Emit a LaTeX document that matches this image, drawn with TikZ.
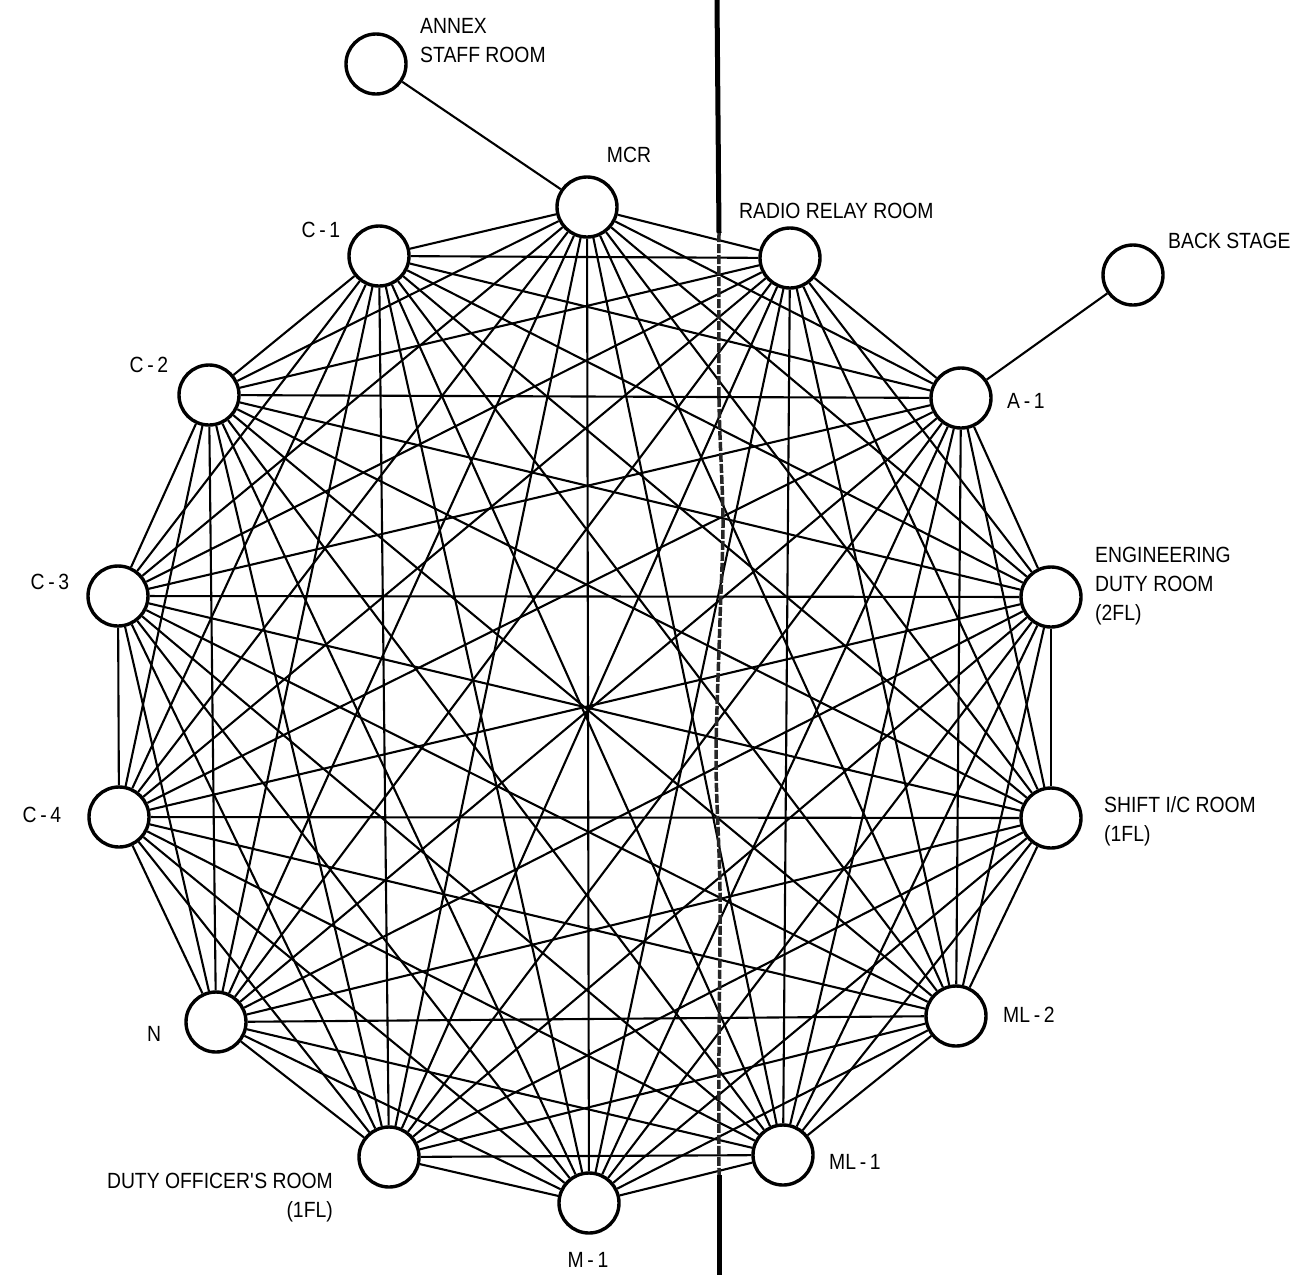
\documentclass[tikz,border=0pt]{standalone}
\usepackage{fontspec}
\setmainfont{Liberation Sans}[FakeStretch=0.88]
\begin{document}
\begin{tikzpicture}[x=1pt,y=-1pt,
  room/.style={circle,draw,line width=3.4pt,fill=white,minimum size=60pt,inner sep=0pt},
  edge/.style={line width=2.1pt},
  lbl/.style={inner sep=0pt,font=\fontsize{22}{29}\selectfont},
  wall/.style={line width=5pt},
  wallmid/.style={line width=3.5pt,black!85,dash pattern=on 9pt off 2pt}]
\useasboundingbox (0,0) rectangle (1298,1275);
% ring of rooms
\node[room] (p1)  at (587,207)  {};
\node[room] (p2)  at (790,258)  {};
\node[room] (p3)  at (961,398)  {};
\node[room] (p4)  at (1051,597) {};
\node[room] (p5)  at (1051,818) {};
\node[room] (p6)  at (956,1016) {};
\node[room] (p7)  at (783,1155) {};
\node[room] (p8)  at (589,1203) {};
\node[room] (p9)  at (389,1157) {};
\node[room] (p10) at (216,1022) {};
\node[room] (p11) at (119,817)  {};
\node[room] (p12) at (118,596)  {};
\node[room] (p13) at (209,395)  {};
\node[room] (p14) at (379,256)  {};
\node[room] (annex) at (376,64) {};
\node[room] (back)  at (1133,275) {};
% complete graph
\foreach \i in {1,...,13}{
  \pgfmathtruncatemacro\k{\i+1}
  \foreach \j in {\k,...,14}{
    \draw[edge] (p\i) -- (p\j);
  }
}
\draw[edge] (annex) -- (p1);
\draw[edge] (back) -- (p3);
% labels
\node[lbl,anchor=north west,align=left] (lannex) at (420,18) {ANNEX\\STAFF ROOM};
\node[lbl] (lmcr) at (629,155) {MCR};
\node[lbl,anchor=west] (lrrr) at (739,211) {RADIO RELAY ROOM};
\node[lbl,anchor=west] (lback) at (1168,241) {BACK STAGE};
\node[lbl,anchor=west] (la1) at (1007,401) {A\,-\,1};
\node[lbl,anchor=north west,align=left] (ledr) at (1095,547) {ENGINEERING\\DUTY ROOM\\(2FL)};
\node[lbl,anchor=north west,align=left] (lsic) at (1104,796) {SHIFT I/C ROOM\\(1FL)};
\node[lbl,anchor=west] (lml2) at (1003,1015) {ML\,-\,2};
\node[lbl,anchor=west] (lml1) at (829,1162) {ML\,-\,1};
\node[lbl] (lm1) at (588,1260) {M\,-\,1};
\node[lbl,anchor=north east,align=right] (ldor) at (333,1173) {DUTY OFFICER\textquotesingle S ROOM\\(1FL)};
\node[lbl] (ln) at (154,1034) {N};
\node[lbl] (lc4) at (42,815) {C\,-\,4};
\node[lbl] (lc3) at (50,582) {C\,-\,3};
\node[lbl] (lc2) at (149,365) {C\,-\,2};
\node[lbl] (lc1) at (321,230) {C\,-\,1};
% partition wall
\coordinate (wtop) at (717,0);
\coordinate (wa) at (719,233);
\coordinate (wb) at (719,1175);
\coordinate (wbot) at (719,1275);
\draw[wall] (wtop) -- (wa);
\draw[wallmid] plot[smooth] coordinates {(719,233) (719,400) (723,520) (720,620) (716,760) (720,890) (719,1050) (719,1175)};
\draw[wall] (wb) -- (wbot);
\end{tikzpicture}
\end{document}
